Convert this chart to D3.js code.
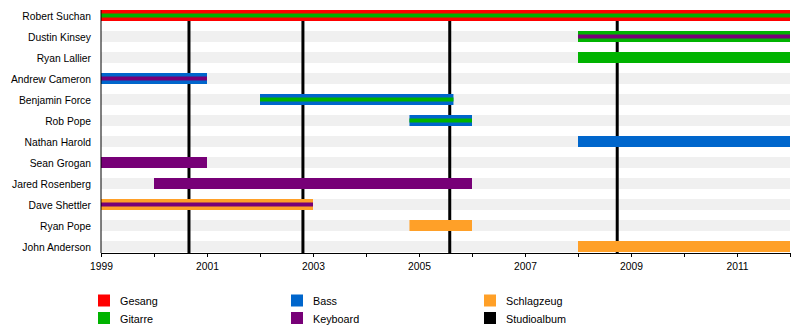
<!DOCTYPE html>
<html><head><meta charset="utf-8">
<script src="https://cdn.jsdelivr.net/npm/d3@7"></script>
<style>body{margin:0;background:#fff}svg{display:block}text{font-family:"Liberation Sans",Arial,sans-serif;font-size:10.3px;fill:#000}</style>
</head><body>
<script>
const members = ["Robert Suchan","Dustin Kinsey","Ryan Lallier","Andrew Cameron","Benjamin Force","Rob Pope","Nathan Harold","Sean Grogan","Jared Rosenberg","Dave Shettler","Ryan Pope","John Anderson"];
// [member, start, end, outer role, inner role or null]
const periods = [
  ["Robert Suchan",1999,2012,"Gesang","Gitarre"],
  ["Dustin Kinsey",2008,2012,"Gitarre","Keyboard"],
  ["Ryan Lallier",2008,2012,"Gitarre",null],
  ["Andrew Cameron",1999,2001,"Bass","Keyboard"],
  ["Benjamin Force",2002,2005.65,"Bass","Gitarre"],
  ["Rob Pope",2004.82,2006,"Bass","Gitarre"],
  ["Nathan Harold",2008,2012,"Bass",null],
  ["Sean Grogan",1999,2001,"Keyboard",null],
  ["Jared Rosenberg",2000,2006,"Keyboard",null],
  ["Dave Shettler",1999,2003,"Schlagzeug","Keyboard"],
  ["Ryan Pope",2004.82,2006,"Schlagzeug",null],
  ["John Anderson",2008,2012,"Schlagzeug",null]
];
const albums = [2000.66, 2002.81, 2005.58, 2008.74];
const roles = ["Gesang","Gitarre","Bass","Keyboard","Schlagzeug","Studioalbum"];
const roleColors = ["#ff0000","#00b300","#0066cc","#770077","#ffa028","#000000"];
const tickYears = d3.range(1999, 2013);
const labelYears = [1999,2001,2003,2005,2007,2009,2011];

const W=800,H=332;
const svg=d3.select("body").append("svg").attr("width",W).attr("height",H);
const x=d3.scaleLinear().domain([1999,2012]).range([101,790]);
const y=d3.scalePoint().domain(members).range([15.5,246.5]);
const color=d3.scaleOrdinal().domain(roles).range(roleColors);
const barH=11, innerH=4;

// background stripes
svg.append("g").selectAll("rect").data(members).join("rect")
  .attr("x",x(1999)).attr("width",x(2012)-x(1999))
  .attr("y",d=>y(d)-barH/2).attr("height",barH).attr("fill","#f0f0f0");

// album lines
svg.append("g").selectAll("line").data(albums).join("line")
  .attr("x1",d=>x(d)).attr("x2",d=>x(d)).attr("y1",y(members[0])+barH/2).attr("y2",253)
  .attr("stroke","#000").attr("stroke-width",3);

// bars
const g=svg.append("g");
g.selectAll("rect.outer").data(periods).join("rect").attr("class","outer")
  .attr("x",d=>x(d[1])).attr("width",d=>x(d[2])-x(d[1]))
  .attr("y",d=>y(d[0])-barH/2).attr("height",barH).attr("fill",d=>color(d[3]));
g.selectAll("rect.inner").data(periods.filter(d=>d[4])).join("rect").attr("class","inner")
  .attr("x",d=>x(d[1])).attr("width",d=>x(d[2])-x(d[1]))
  .attr("y",d=>y(d[0])-innerH/2).attr("height",innerH).attr("fill",d=>color(d[4]));

// member labels
svg.append("g").selectAll("text").data(members).join("text")
  .attr("x",91).attr("y",d=>y(d)+0.5).attr("dy","0.35em").attr("text-anchor","end").text(d=>d);

// left axis line
svg.append("line").attr("x1",101).attr("x2",101).attr("y1",10).attr("y2",253).attr("stroke","#000");

// bottom axis
const ax=svg.append("g").attr("transform","translate(0,253)")
  .call(d3.axisBottom(x).tickValues(tickYears).tickSize(4).tickFormat(d=>labelYears.includes(d)?d:"").tickSizeOuter(0));
ax.select(".domain").attr("stroke","#000");
ax.selectAll("text").attr("font-family","'Liberation Sans',Arial,sans-serif").attr("font-size",10).attr("fill","#000").attr("dy","1em");

// legend
const cols=[98,291,484];
const lg=svg.append("g").selectAll("g").data(roles).join("g")
  .attr("transform",(d,i)=>`translate(${cols[Math.floor(i/2)]},${294.5+(i%2)*17.5})`);
lg.append("rect").attr("width",12).attr("height",12).attr("fill",d=>color(d));
lg.append("text").attr("x",22).attr("y",7).attr("dy","0.35em").style("font-size","10.8px").text(d=>d);
</script>
</body></html>
